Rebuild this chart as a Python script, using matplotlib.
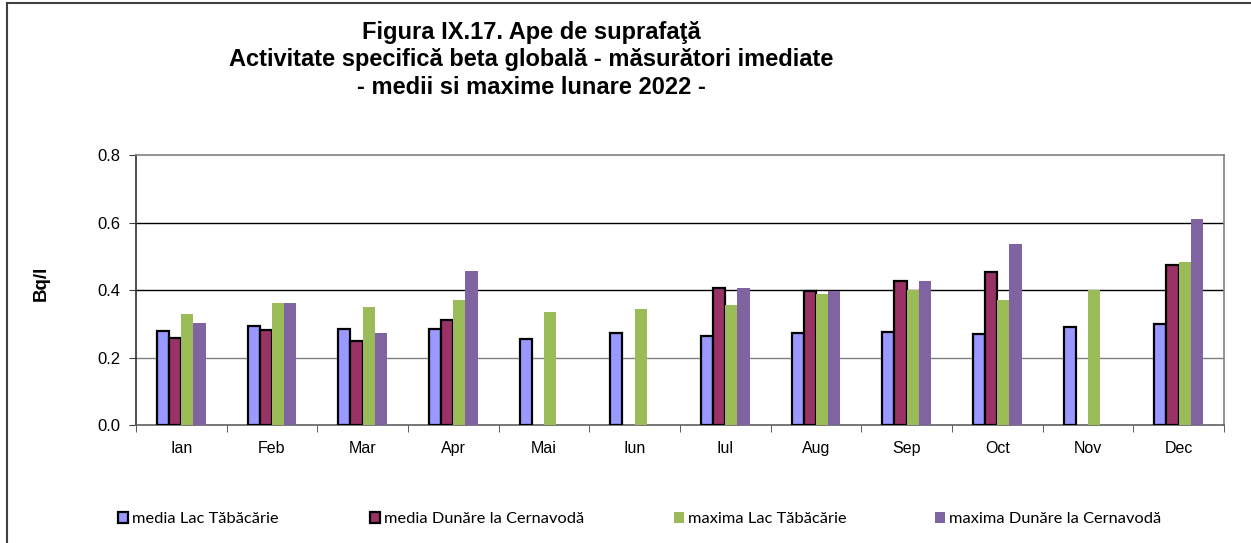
import numpy as np
import matplotlib.pyplot as plt
from matplotlib.lines import Line2D

plt.rcParams['font.family'] = ['Liberation Sans', 'DejaVu Sans']

months = ['Ian', 'Feb', 'Mar', 'Apr', 'Mai', 'Iun', 'Iul', 'Aug', 'Sep', 'Oct', 'Nov', 'Dec']
nan = np.nan
media_lac = [0.279, 0.295, 0.285, 0.285, 0.256, 0.274, 0.265, 0.274, 0.277, 0.270, 0.292, 0.299]
media_dunare = [0.259, 0.281, 0.249, 0.312, nan, nan, 0.406, 0.397, 0.426, 0.454, nan, 0.474]
maxima_lac = [0.328, 0.362, 0.350, 0.370, 0.336, 0.343, 0.357, 0.389, 0.400, 0.372, 0.400, 0.484]
maxima_dunare = [0.302, 0.362, 0.272, 0.456, nan, nan, 0.406, 0.398, 0.426, 0.537, nan, 0.611]

series = [
    ('media Lac Tăbăcărie', media_lac, '#9999ff', 'black'),
    ('media Dunăre la Cernavodă', media_dunare, '#993366', 'black'),
    ('maxima Lac Tăbăcărie', maxima_lac, '#9bbb59', 'none'),
    ('maxima Dunăre la Cernavodă', maxima_dunare, '#8064a2', 'none'),
]

fig = plt.figure(figsize=(12.51, 5.43), dpi=100)
ax = fig.add_axes([0.1087, 0.2168, 0.8697, 0.4977])

x = np.arange(len(months))
w = 0.134
bars = []
for i, (name, vals, col, ec) in enumerate(series):
    b = ax.bar(x + (i - 1.5) * w, vals, w, color=col, edgecolor=ec,
               linewidth=1.6 if ec != 'none' else 0, label=name, zorder=3)
    bars.append(b)

ax.set_xlim(-0.5, 11.5)
ax.set_ylim(0, 0.8)
ax.set_yticks([0, 0.2, 0.4, 0.6, 0.8])
ax.set_yticklabels(['0.0', '0.2', '0.4', '0.6', '0.8'], fontsize=12)
ax.set_xticks(x)
ax.set_xticklabels(months, fontsize=11.5)
ax.set_xticks(np.arange(-0.5, 12, 1), minor=True)
ax.tick_params(axis='x', which='major', length=0, pad=11)
ax.tick_params(axis='x', which='minor', length=5, direction='out', color='#404040')
ax.tick_params(axis='y', length=5, direction='out', color='#404040', pad=6)
ax.grid(axis='y', color='black', linewidth=1, zorder=0)
for gl, c in zip(ax.get_ygridlines(), ['none', '#808080', 'black', 'black', 'none']):
    gl.set_color(c)
for s in ax.spines.values():
    s.set_color('#808080')
    s.set_linewidth(1.2)
ax.spines['left'].set_color('#303030')
ax.spines['bottom'].set_color('#606060')

ax.set_ylabel('Bq/l', fontsize=13.5, fontweight='bold')
ax.yaxis.set_label_coords(-0.079, 0.526)

title_lines = ['Figura IX.17. Ape de suprafaţă',
               'Activitate specifică beta globală - măsurători imediate',
               '- medii si maxime lunare 2022 -']
for t, yy in zip(title_lines, [0.941, 0.891, 0.838]):
    fig.text(0.425, yy, t, ha='center', va='center', fontsize=17, fontweight='bold')

legend_x = [118, 370, 674, 935]
for b, (name, *_), lx in zip(bars, series, legend_x):
    fig.legend([b], [name], loc='center left', bbox_to_anchor=(lx / 1251, 1 - 519 / 543),
               frameon=False, prop={'family': 'Lato', 'size': 11.8},
               handlelength=0.6, handleheight=0.7, handletextpad=0.25,
               borderpad=0, borderaxespad=0)

# outer chart border (left and top edges visible)
fig.add_artist(Line2D([7 / 1251, 7 / 1251], [0, 1 - 3 / 543], transform=fig.transFigure,
                      color='#404040', linewidth=1.5))
fig.add_artist(Line2D([7 / 1251, 1], [1 - 3 / 543, 1 - 3 / 543], transform=fig.transFigure,
                      color='#404040', linewidth=1.5))

fig.savefig('out.png', dpi=100)
